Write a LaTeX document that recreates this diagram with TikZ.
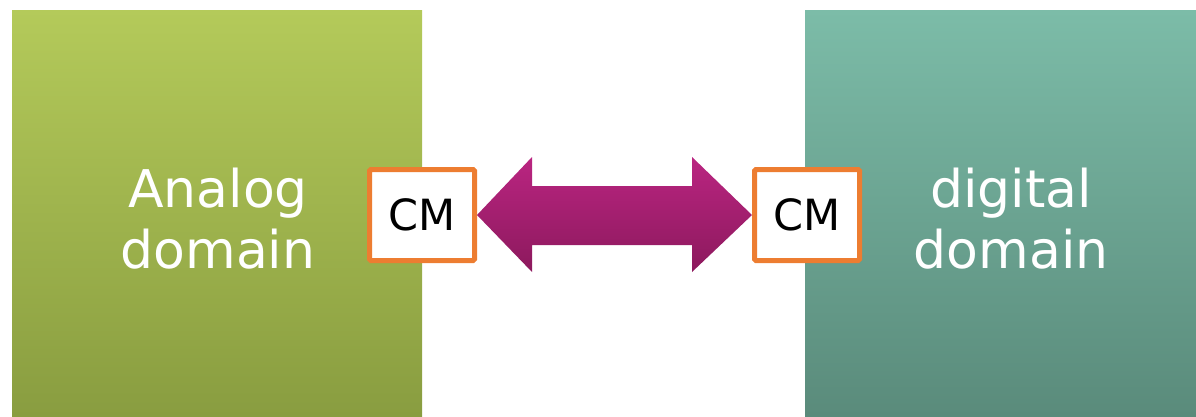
\documentclass[tikz,border=0pt]{standalone}
\usepackage{fontspec}
\setmainfont{DejaVu Sans}
\begin{document}
\begin{tikzpicture}[x=1pt,y=-1pt,
  domainbox/.style={draw=none, minimum width=#1, minimum height=406pt, inner sep=0pt},
  domaintext/.style={text=white, font=\fontsize{52}{61}\selectfont, align=center},
  cmbox/.style={draw={rgb,255:red,237;green,125;blue,49}, line width=5pt, fill=white, rounded corners=1.5pt,
    minimum width=105pt, minimum height=91pt, inner sep=0pt, font=\fontsize{43}{50}\selectfont}]
\useasboundingbox (0,0) rectangle (1196,416);
% analog block
\shade[top color={rgb,255:red,180;green,202;blue,90}, bottom color={rgb,255:red,137;green,157;blue,64}]
  (12,10) rectangle (422,416);
\node[domainbox=410pt] (analog) at (217,213) {};
\node[domaintext] (analogtxt) at (218,219) {Analog\\domain};
% digital block
\shade[top color={rgb,255:red,124;green,188;blue,168}, bottom color={rgb,255:red,90;green,139;blue,123}]
  (805,10) rectangle (1196,416);
\node[domainbox=391pt] (digital) at (1000,213) {};
\node[domaintext] (digitaltxt) at (1011,219) {digital\\domain};
% converter modules
\node[cmbox] (cmL) at (422,215) {CM};
\node[cmbox] (cmR) at (807,215) {CM};
% two-way arrow between the modules
\shade[top color={rgb,255:red,186;green,37;blue,129}, bottom color={rgb,255:red,140;green,25;blue,93}]
  (cmL.east) -- (532,157) -- (532,186) -- (692,186) -- (692,157) -- (cmR.west)
  -- (692,272) -- (692,245) -- (532,245) -- (532,272) -- cycle;
\end{tikzpicture}
\end{document}
